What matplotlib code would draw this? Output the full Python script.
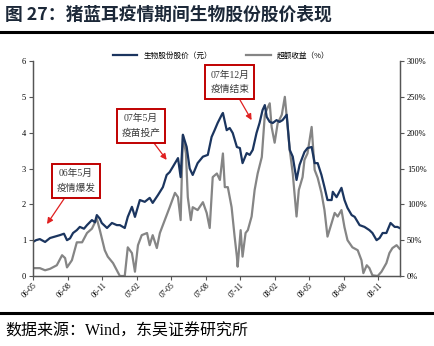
import pandas as pd
import matplotlib.pyplot as plt
import matplotlib.dates as mdates
from matplotlib.lines import Line2D
from matplotlib.ticker import FuncFormatter

plt.rcParams['font.family'] = ['Liberation Serif', 'Noto Sans CJK SC', 'DejaVu Sans']
CJK = ['Noto Sans CJK SC', 'DejaVu Sans']

# 生物股份股价（元）
price_dates = [
    '2006-05-01', '2006-05-09', '2006-05-19', '2006-06-02', '2006-06-15', '2006-06-28',
    '2006-07-11', '2006-07-22', '2006-07-30', '2006-08-07', '2006-08-15', '2006-08-25',
    '2006-09-02', '2006-09-13', '2006-09-21', '2006-10-04', '2006-10-12', '2006-10-17',
    '2006-10-25', '2006-10-30', '2006-11-13', '2006-11-26', '2006-12-09', '2006-12-17',
    '2006-12-30', '2007-01-07', '2007-01-18', '2007-01-26', '2007-02-08', '2007-02-21',
    '2007-03-06', '2007-03-14', '2007-03-28', '2007-04-10', '2007-04-20', '2007-04-28',
    '2007-05-06', '2007-05-20', '2007-05-27', '2007-06-02', '2007-06-12', '2007-06-20',
    '2007-06-28', '2007-07-11', '2007-07-25', '2007-08-07', '2007-08-17', '2007-08-25',
    '2007-09-02', '2007-09-13', '2007-09-16', '2007-09-26', '2007-10-04', '2007-10-12',
    '2007-10-23', '2007-10-31', '2007-11-07', '2007-11-18', '2007-11-26', '2007-12-04',
    '2007-12-14', '2007-12-22', '2007-12-30', '2008-01-05', '2008-01-10', '2008-01-18',
    '2008-01-26', '2008-02-05', '2008-02-13', '2008-02-21', '2008-03-03', '2008-03-11',
    '2008-03-19', '2008-03-29', '2008-04-06', '2008-04-19', '2008-04-27', '2008-05-08',
    '2008-05-16', '2008-05-24', '2008-06-03', '2008-06-11', '2008-06-19', '2008-06-30',
    '2008-07-03', '2008-07-13', '2008-07-26', '2008-08-03', '2008-08-11', '2008-08-22',
    '2008-08-30', '2008-09-12', '2008-09-25', '2008-10-08', '2008-10-16', '2008-10-27',
    '2008-11-04', '2008-11-12', '2008-11-22', '2008-12-03', '2008-12-14', '2008-12-21',
    '2008-12-27',
]
price = [
    0.95, 1.00, 1.03, 0.95, 1.06, 1.10,
    1.14, 1.18, 1.00, 1.05, 1.20, 1.28,
    1.37, 1.32, 1.42, 1.56, 1.50, 1.70,
    1.60, 1.48, 1.34, 1.48, 1.42, 1.42,
    1.34, 1.65, 1.93, 1.65, 2.12, 2.07,
    2.18, 2.04, 2.26, 2.48, 2.82, 2.90,
    3.04, 3.29, 2.76, 3.94, 3.60, 3.00,
    2.82, 3.15, 3.33, 3.38, 3.88, 4.07,
    4.27, 4.50, 4.55, 4.07, 4.13, 3.99,
    3.60, 3.57, 3.15, 3.43, 3.38, 3.52,
    3.99, 4.27, 4.63, 4.77, 4.44, 4.30,
    4.27, 4.35, 4.30, 4.35, 4.50, 3.52,
    3.33, 2.68, 3.10, 3.46, 3.57, 3.60,
    3.15, 3.15, 2.82, 2.48, 2.12, 2.12,
    2.35, 2.20, 2.46, 2.12, 1.90, 1.70,
    1.65, 1.42, 1.37, 1.28, 1.20, 1.00,
    1.06, 1.20, 1.20, 1.48, 1.37, 1.37,
    1.34,
]

# 超额收益（%）
excess_dates = [
    '2006-05-01', '2006-05-19', '2006-06-02', '2006-06-15', '2006-07-03', '2006-07-17',
    '2006-07-25', '2006-07-30', '2006-08-12', '2006-08-25', '2006-09-08', '2006-09-16',
    '2006-09-21', '2006-10-04', '2006-10-17', '2006-10-25', '2006-11-07', '2006-11-15',
    '2006-11-29', '2006-12-09', '2006-12-17', '2006-12-30', '2007-01-07', '2007-01-18',
    '2007-01-26', '2007-02-03', '2007-02-13', '2007-02-27', '2007-03-06', '2007-03-14',
    '2007-03-25', '2007-04-02', '2007-04-15', '2007-04-28', '2007-05-12', '2007-05-20',
    '2007-05-27', '2007-06-02', '2007-06-10', '2007-06-15', '2007-06-23', '2007-06-28',
    '2007-07-11', '2007-07-25', '2007-08-04', '2007-08-12', '2007-08-20', '2007-08-31',
    '2007-09-08', '2007-09-16', '2007-09-21', '2007-09-29', '2007-10-09', '2007-10-17',
    '2007-10-23', '2007-10-25', '2007-11-02', '2007-11-07', '2007-11-15', '2007-11-21',
    '2007-12-01', '2007-12-09', '2007-12-17', '2007-12-28', '2008-01-05', '2008-01-10',
    '2008-01-18', '2008-01-23', '2008-01-31', '2008-02-08', '2008-02-19', '2008-02-27',
    '2008-03-03', '2008-03-11', '2008-03-19', '2008-03-29', '2008-04-04', '2008-04-14',
    '2008-04-19', '2008-04-27', '2008-05-08', '2008-05-16', '2008-05-24', '2008-06-03',
    '2008-06-11', '2008-06-19', '2008-06-30', '2008-07-08', '2008-07-16', '2008-07-26',
    '2008-08-03', '2008-08-11', '2008-08-24', '2008-09-07', '2008-09-17', '2008-09-22',
    '2008-10-01', '2008-10-08', '2008-10-16', '2008-10-30', '2008-11-09', '2008-11-22',
    '2008-11-30', '2008-12-08', '2008-12-19', '2008-12-27',
]
excess = [
    11, 11, 8, 10, 15, 29,
    25, 12, 22, 47, 47, 55,
    60, 66, 80, 64, 36, 27,
    18, 8, 0, 0, 40, 32,
    6, 43, 57, 60, 43, 57,
    39, 60, 78, 96, 116, 110,
    78, 197, 171, 110, 78, 96,
    92, 103, 88, 67, 138, 143,
    134, 171, 124, 124, 96, 55,
    27, 13, 64, 27, 60, 64,
    83, 120, 143, 166, 225, 232,
    241, 208, 186, 213, 225, 250,
    222, 176, 143, 83, 120, 138,
    162, 171, 208, 148, 137, 116,
    92, 55, 74, 88, 83, 92,
    68, 50, 40, 36, 22, 4,
    15, 11, 1, 0, 6, 18,
    32, 39, 43, 38,
]

x_ticks = ['2006-05', '2006-08', '2006-11', '2007-02', '2007-05', '2007-08',
           '2007-11', '2008-02', '2008-05', '2008-08', '2008-11']

fig = plt.figure(figsize=(4.35, 3.46), dpi=100)
ax = fig.add_axes([0.0759, 0.2023, 0.8436, 0.6214])
ax2 = ax.twinx()

blue = '#1b355f'
gray = '#858585'
l1, = ax.plot(pd.to_datetime(price_dates), price, color=blue, lw=1.6, label='生物股份股价（元）')
l2, = ax2.plot(pd.to_datetime(excess_dates), excess, color=gray, lw=1.6, label='超额收益（%）')

ax.set_xlim(pd.Timestamp('2006-05-01'), pd.Timestamp('2008-12-28'))
ax.set_ylim(0, 6)
ax2.set_ylim(0, 300)
ax.set_yticks(range(0, 7))
ax2.set_yticks(range(0, 301, 50))
ax2.yaxis.set_major_formatter(FuncFormatter(lambda v, p: '%d%%' % v))

ax.set_xticks(pd.to_datetime(x_ticks))
ax.xaxis.set_major_formatter(mdates.DateFormatter('%y-%m'))
for lab in ax.get_xticklabels():
    lab.set_rotation(45)
    lab.set_ha('right')
    lab.set_rotation_mode('anchor')

for a in (ax, ax2):
    a.spines['top'].set_visible(False)
    for s in ('left', 'right', 'bottom'):
        a.spines[s].set_color('#555555')
        a.spines[s].set_linewidth(0.9)
    a.tick_params(labelsize=6, length=3, width=0.8, color='#555555', pad=2)
ax.tick_params(axis='x', labelsize=5.5, pad=1)

# 事件标注
box = dict(boxstyle='square,pad=0.5', fc='white', ec='#c00000', lw=1.4)
arrow = dict(arrowstyle='-|>,head_length=0.5,head_width=0.25', color='#e02020', lw=0.9, shrinkA=0, shrinkB=0)
events = [
    ('06年5月\n疫情爆发', '2006-06-07', 1.45, '2006-08-23', 2.65),
    ('07年5月\n疫苗投产', '2007-04-20', 3.24, '2007-02-11', 4.19),
    ('07年12月\n疫情结束', '2007-12-01', 4.35, '2007-10-04', 5.41),
]
for txt, xd, yv, tx, ty in events:
    ax.annotate(txt, xy=(pd.Timestamp(xd), yv), xytext=(pd.Timestamp(tx), ty),
                ha='center', va='center', fontsize=7, color='#3a3a3a',
                family=['Liberation Serif', 'Noto Sans CJK SC'], linespacing=1.7,
                bbox=box, arrowprops=arrow, zorder=5)
ax.set_zorder(ax2.get_zorder() + 1)
ax.patch.set_visible(False)

fig.legend(handles=[l1, l2], loc='center', bbox_to_anchor=(0.508, 0.838), ncol=2,
           frameon=False, handlelength=3.2, columnspacing=4.5,
           prop={'family': CJK, 'size': 5.5})

fig.text(0.012, 0.958, '图 27：猪蓝耳疫情期间生物股份股价表现', fontsize=12.8, fontweight='bold',
         color='#1c2838', family=CJK, va='center')
fig.add_artist(Line2D([0, 1], [0.907, 0.907], color='black', lw=2.2))
fig.add_artist(Line2D([0, 1], [0.096, 0.096], color='black', lw=2.2))
fig.text(0.012, 0.042, '数据来源：Wind，东吴证券研究所', fontsize=11.5, color='black',
         family=['Liberation Serif', 'Noto Sans CJK SC'], va='center')

fig.savefig('out.png', dpi=100)
